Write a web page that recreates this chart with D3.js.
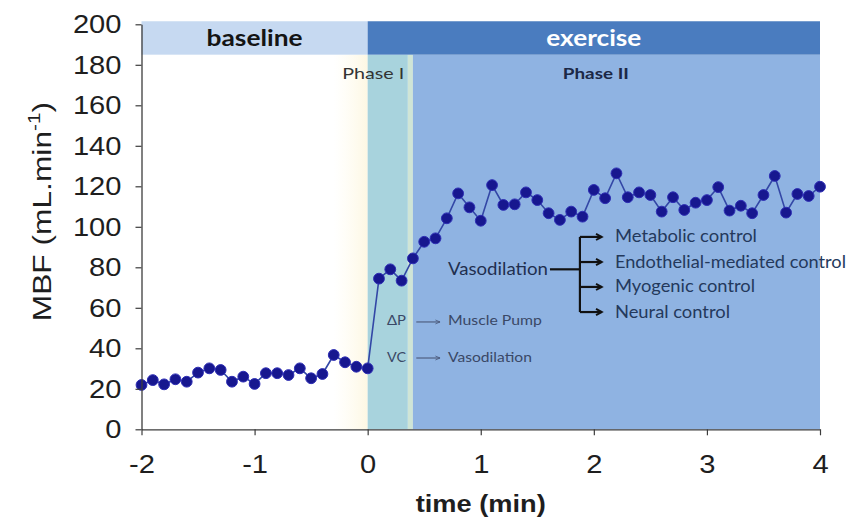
<!DOCTYPE html>
<html>
<head>
<meta charset="utf-8">
<script src="https://cdn.jsdelivr.net/npm/d3@7"></script>
<style>
  html, body { margin: 0; padding: 0; background: #ffffff; }
  svg { display: block; }
</style>
</head>
<body>
<svg id="chart" width="852" height="521"></svg>
<script>
// Muscle blood flow (MBF, mL/min) sampled every 6 s
const baselineTime = [-2.0, -1.9, -1.8, -1.7, -1.6, -1.5, -1.4, -1.3, -1.2, -1.1, -1.0,
                      -0.9, -0.8, -0.7, -0.6, -0.5, -0.4, -0.3, -0.2, -0.1, 0.0];
const baselineMBF  = [21.9, 24.3, 22.2, 24.7, 23.5, 28.0, 30.1, 29.3, 23.5, 26.0, 22.4,
                      27.7, 27.7, 26.8, 30.1, 25.2, 27.3, 36.7, 33.1, 30.9, 30.1];

const exerciseTime = [0.1, 0.2, 0.3, 0.4, 0.5, 0.6, 0.7, 0.8, 0.9, 1.0,
                      1.1, 1.2, 1.3, 1.4, 1.5, 1.6, 1.7, 1.8, 1.9, 2.0,
                      2.1, 2.2, 2.3, 2.4, 2.5, 2.6, 2.7, 2.8, 2.9, 3.0,
                      3.1, 3.2, 3.3, 3.4, 3.5, 3.6, 3.7, 3.8, 3.9, 4.0];
const exerciseMBF  = [74.4, 79.0, 73.4, 84.4, 92.6, 94.3, 104.2, 116.5, 109.6, 103.0,
                      120.6, 110.8, 111.1, 117.0, 113.2, 106.7, 103.4, 107.5, 105.0, 118.2,
                      114.1, 126.4, 114.6, 117.0, 115.7, 107.5, 114.6, 108.3, 111.9, 113.2,
                      119.6, 108.0, 110.4, 106.7, 115.7, 125.1, 107.0, 116.2, 115.2, 119.8];

// Axis ticks
const xTicks = [-2, -1, 0, 1, 2, 3, 4];
const xTickLabels = ["-2", "-1", "0", "1", "2", "3", "4"];
const yTicks = [0, 20, 40, 60, 80, 100, 120, 140, 160, 180, 200];
const yTickLabels = ["0", "20", "40", "60", "80", "100", "120", "140", "160", "180", "200"];

// Protocol periods (header band) and exercise phases (shaded background)
const periodNames = ["baseline", "exercise"];
const periodStart = [-2, 0];
const periodEnd   = [0, 4];
const phaseNames  = ["Phase I", "Phase II"];
const phaseStart  = [0, 0.40];
const phaseEnd    = [0.355, 4];

// Mechanisms of exercise hyperaemia
const phaseIRows   = ["\u0394P", "VC"];
const phaseIText   = ["Muscle Pump", "Vasodilation"];
const controlNames = ["Metabolic control", "Endothelial-mediated control", "Myogenic control", "Neural control"];

const data = baselineTime.map((t, i) => ({ t, v: baselineMBF[i] }))
  .concat(exerciseTime.map((t, i) => ({ t, v: exerciseMBF[i] })));

const svg = d3.select("#chart");
const x = d3.scaleLinear().domain([-2, 4]).range([141.5, 820]);
const y = d3.scaleLinear().domain([0, 200]).range([429.3, 24.3]);

const defs = svg.append("defs");
const haze = defs.append("linearGradient").attr("id", "haze").attr("x1", 0).attr("x2", 1);
haze.append("stop").attr("offset", 0).attr("stop-color", "#fffbe8").attr("stop-opacity", 0);
haze.append("stop").attr("offset", 1).attr("stop-color", "#fdf6de").attr("stop-opacity", 0.85);

defs.append("marker").attr("id", "bigArrow")
  .attr("viewBox", "0 0 10 10").attr("refX", 8).attr("refY", 5)
  .attr("markerWidth", 4).attr("markerHeight", 4).attr("orient", "auto")
  .append("path").attr("d", "M1.5,1.5 L8,5 L1.5,8.5")
  .attr("fill", "none").attr("stroke", "#111").attr("stroke-width", 2.2);

defs.append("marker").attr("id", "smallArrow")
  .attr("viewBox", "0 0 10 10").attr("refX", 9).attr("refY", 5)
  .attr("markerWidth", 6).attr("markerHeight", 6).attr("orient", "auto")
  .append("path").attr("d", "M2,2 L9,5 L2,8")
  .attr("fill", "none").attr("stroke", "#4a5878").attr("stroke-width", 1.2);

const yBandTop = y(201.5), yBandBot = y(185);

// soft warm glow just before exercise onset
svg.append("rect")
  .attr("x", x(-0.3)).attr("y", yBandBot)
  .attr("width", x(0) - x(-0.3)).attr("height", y(0) - yBandBot)
  .attr("fill", "url(#haze)");

// exercise phases
const phaseFill = ["#a8d3dd", "#8fb3e2"];
svg.append("rect")
  .attr("x", x(phaseEnd[0])).attr("y", yBandBot)
  .attr("width", x(phaseStart[1]) - x(phaseEnd[0])).attr("height", y(0) - yBandBot)
  .attr("fill", "#cfe5d6");
svg.selectAll("rect.phase").data(phaseNames).join("rect")
  .attr("class", "phase")
  .attr("x", (d, i) => x(phaseStart[i]))
  .attr("y", yBandBot)
  .attr("width", (d, i) => x(phaseEnd[i]) - x(phaseStart[i]))
  .attr("height", y(0) - yBandBot)
  .attr("fill", (d, i) => phaseFill[i]);

// header band
const periodFill = ["#c6d9f1", "#4a7cbf"];
svg.selectAll("rect.period").data(periodNames).join("rect")
  .attr("class", "period")
  .attr("x", (d, i) => x(periodStart[i]))
  .attr("y", yBandTop)
  .attr("width", (d, i) => x(periodEnd[i]) - x(periodStart[i]))
  .attr("height", yBandBot - yBandTop)
  .attr("fill", (d, i) => periodFill[i]);

function addText(px, py, str, o) {
  const t = svg.append("text")
    .attr("x", px).attr("y", py)
    .attr("font-family", o.family || "Lato, 'Open Sans', sans-serif")
    .attr("font-size", o.size)
    .attr("font-weight", o.weight || "normal")
    .attr("fill", o.fill || "#222")
    .attr("text-anchor", o.anchor || "start")
    .text(str);
  if (o.len) t.attr("textLength", o.len).attr("lengthAdjust", "spacingAndGlyphs");
  return t;
}

addText((x(periodStart[0]) + x(periodEnd[0])) / 2, y(193.2) + 8, periodNames[0],
  { size: 23, weight: "bold", fill: "#141414", anchor: "middle", len: 96 });
addText((x(periodStart[1]) + x(periodEnd[1])) / 2, y(193.2) + 8, periodNames[1],
  { size: 23, weight: "bold", fill: "#ffffff", anchor: "middle", len: 95 });

addText(x(0.05), y(176) + 6, phaseNames[0], { size: 16, fill: "#333333", anchor: "middle", len: 62 });
addText(x(2.0) + 2, y(176) + 6, phaseNames[1], { size: 16, weight: "bold", fill: "#1b2846", anchor: "middle", len: 66 });

// MBF trace
svg.append("path")
  .datum(data)
  .attr("fill", "none")
  .attr("stroke", "#3347a6")
  .attr("stroke-width", 1.6)
  .attr("d", d3.line().x(d => x(d.t)).y(d => y(d.v)));

svg.selectAll("circle.pt").data(data).join("circle")
  .attr("class", "pt")
  .attr("cx", d => x(d.t)).attr("cy", d => y(d.v))
  .attr("r", 5.4)
  .attr("fill", "#17178f")
  .attr("stroke", "#2d2db4")
  .attr("stroke-width", 1);

// Phase I mechanisms
const rowY = [53.5, 35.7];
phaseIRows.forEach((r, i) => {
  addText(x(0.171), y(rowY[i]) + 4.5, r, { size: 13, fill: "#3a4866", len: 19 });
  svg.append("line")
    .attr("x1", x(0.43)).attr("x2", x(0.64))
    .attr("y1", y(rowY[i]) + 1).attr("y2", y(rowY[i]) + 1)
    .attr("stroke", "#4a5878").attr("stroke-width", 1.1)
    .attr("marker-end", "url(#smallArrow)");
  addText(x(0.71), y(rowY[i]) + 4.5, phaseIText[i],
    { size: 13, fill: "#3a4866", len: i === 0 ? 94 : 84 });
});

// Phase II vasodilation branches
const branchY = [95.0, 82.6, 70.3, 57.9];
const stemY = 79.0;
addText(x(0.71), y(stemY) + 5.5, "Vasodilation", { size: 17, fill: "#1f2f4f", len: 100 });
svg.append("line")
  .attr("x1", x(1.612)).attr("x2", x(1.877))
  .attr("y1", y(stemY)).attr("y2", y(stemY))
  .attr("stroke", "#111").attr("stroke-width", 2.2);
svg.append("line")
  .attr("x1", x(1.877)).attr("x2", x(1.877))
  .attr("y1", y(branchY[0])).attr("y2", y(branchY[3]))
  .attr("stroke", "#111").attr("stroke-width", 2.2);
const controlLen = [142, 231, 140, 115];
controlNames.forEach((c, i) => {
  svg.append("line")
    .attr("x1", x(1.877)).attr("x2", x(2.07))
    .attr("y1", y(branchY[i])).attr("y2", y(branchY[i]))
    .attr("stroke", "#111").attr("stroke-width", 2.2)
    .attr("marker-end", "url(#bigArrow)");
  addText(x(2.187), y(branchY[i]) + 5.5, c, { size: 17, fill: "#24395c", len: controlLen[i] });
});

// axes
const yAxis = svg.append("g")
  .attr("transform", `translate(${x(-2)},0)`)
  .call(d3.axisLeft(y).tickValues(yTicks).tickFormat((d, i) => yTickLabels[i])
    .tickSize(6).tickPadding(14).tickSizeOuter(0));
const xAxis = svg.append("g")
  .attr("transform", `translate(0,${y(0)})`)
  .call(d3.axisBottom(x).tickValues(xTicks).tickFormat((d, i) => xTickLabels[i])
    .tickSize(6).tickPadding(19).tickSizeOuter(0));

[yAxis, xAxis].forEach(g => {
  g.select(".domain").attr("stroke", "#3c3c3c").attr("stroke-width", 1.3);
  g.selectAll(".tick line").attr("stroke", "#3c3c3c").attr("stroke-width", 1.2);
  g.selectAll(".tick text")
    .attr("fill", "#1e1e1e")
    .attr("font-family", "'Liberation Sans', Arial, sans-serif")
    .attr("font-size", 26)
    .each(function () {
      const w = this.getComputedTextLength();
      d3.select(this).attr("textLength", w * 1.12).attr("lengthAdjust", "spacingAndGlyphs");
    });
});

// axis titles (stretched along the text direction)
const yTitle = svg.append("text")
  .attr("transform", `translate(51,${y(107.5)}) rotate(-90) scale(1.22,1)`)
  .attr("text-anchor", "middle")
  .attr("font-family", "'Liberation Sans', Arial, sans-serif")
  .attr("font-size", 26)
  .attr("fill", "#1e1e1e");
yTitle.append("tspan").text("MBF (mL.min");
yTitle.append("tspan").attr("font-size", 17).attr("dy", -11).text("-1");
yTitle.append("tspan").attr("dy", 11).text(")");

addText((x(-2) + x(4)) / 2, 512, "time (min)",
  { family: "'Liberation Sans', Arial, sans-serif", size: 23, weight: "bold", fill: "#1e1e1e", anchor: "middle", len: 130 });
</script>
</body>
</html>
